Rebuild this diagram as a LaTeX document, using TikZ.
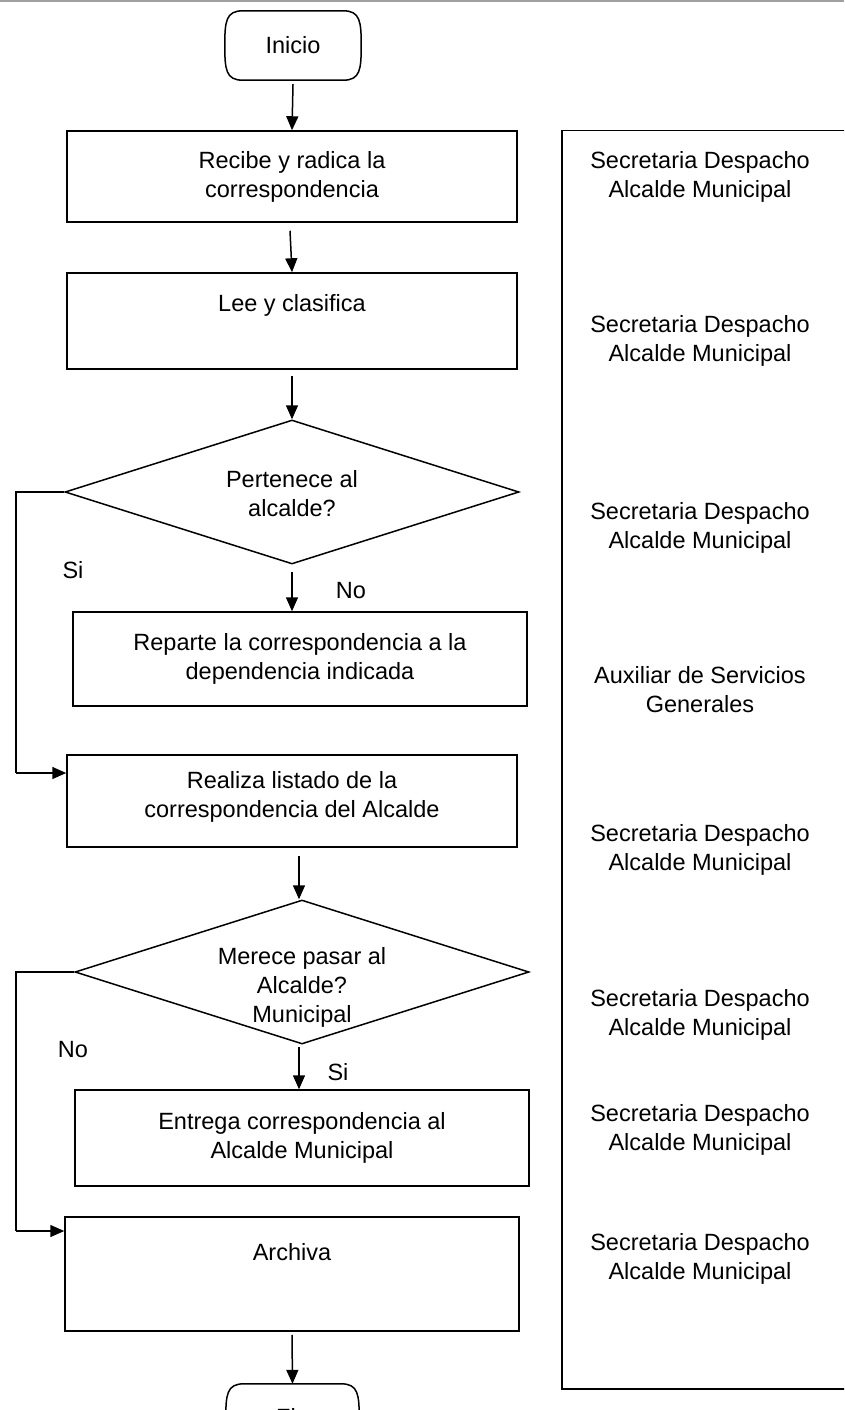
\documentclass[tikz,border=0pt]{standalone}
\usepackage{fontspec}
\setmainfont{Liberation Sans}
\usetikzlibrary{arrows.meta,shapes.geometric,calc}
\tikzset{
  txt/.style={font=\fontsize{23.5}{29}\selectfont, align=center, inner sep=0pt},
  procbox/.style={draw, line width=1.5pt, rectangle, inner sep=0pt},
  decbox/.style={draw, line width=1.5pt, diamond, inner sep=0pt},
  arr/.style={line width=1.5pt, -{Triangle[length=14pt,width=12pt]}},
  link/.style={line width=1.5pt},
}
\begin{document}
\begin{tikzpicture}[x=1pt,y=-1pt]
\useasboundingbox (0,0) rectangle (844,1410);
\clip (0,0) rectangle (844,1410);
\fill[white] (0,0) rectangle (844,1410);
% top gray rule
\draw[line width=2pt, color={rgb,255:red,160;green,160;blue,160}] (0,1) -- (844,1);

% terminators
\node[rectangle, minimum width=136pt, minimum height=69pt, inner sep=0pt] (inicio) at (293,45.5) {};
\draw[link] ($(inicio.north west)+(18,0)$) -- ($(inicio.north east)+(-18,0)$)
  .. controls ($(inicio.north east)+(-1,0)$) and ($(inicio.east)+(0,-24)$) .. (inicio.east)
  .. controls ($(inicio.east)+(0,24)$) and ($(inicio.south east)+(-1,0)$) .. ($(inicio.south east)+(-18,0)$)
  -- ($(inicio.south west)+(18,0)$)
  .. controls ($(inicio.south west)+(1,0)$) and ($(inicio.west)+(0,24)$) .. (inicio.west)
  .. controls ($(inicio.west)+(0,-24)$) and ($(inicio.north west)+(1,0)$) .. cycle;
\node[txt] at (inicio) {Inicio};

\node[rectangle, minimum width=133pt, minimum height=69pt, inner sep=0pt] (fin) at (292.5,1418.5) {};
\draw[link] ($(fin.north west)+(18,0)$) -- ($(fin.north east)+(-18,0)$)
  .. controls ($(fin.north east)+(-1,0)$) and ($(fin.east)+(0,-24)$) .. (fin.east)
  .. controls ($(fin.east)+(0,24)$) and ($(fin.south east)+(-1,0)$) .. ($(fin.south east)+(-18,0)$)
  -- ($(fin.south west)+(18,0)$)
  .. controls ($(fin.south west)+(1,0)$) and ($(fin.west)+(0,24)$) .. (fin.west)
  .. controls ($(fin.west)+(0,-24)$) and ($(fin.north west)+(1,0)$) .. cycle;
\node[txt] at ($(fin)+(0,-2)$) {Fin};

% process boxes
\node[procbox, minimum width=450pt, minimum height=91pt] (b1) at (292,176.5) {};
\node[txt] at (b1) {Recibe y radica la\\correspondencia};
\node[procbox, minimum width=450pt, minimum height=96pt] (b2) at (292,321) {};
\node[txt] at ($(b2)+(0,-16)$) {Lee y clasifica};
\node[decbox, minimum width=454pt, minimum height=144pt] (d1) at (292,492) {};
\node[txt] at ($(d1)+(0,2)$) {Pertenece al\\alcalde?};
\node[procbox, minimum width=454pt, minimum height=94pt] (b3) at (300,659) {};
\node[txt] at (b3) {Reparte la correspondencia a la\\dependencia indicada};
\node[procbox, minimum width=450pt, minimum height=92pt] (b4) at (292,801) {};
\node[txt] at ($(b4)+(0,-4)$) {Realiza listado de la\\correspondencia del Alcalde};
\node[decbox, minimum width=454pt, minimum height=144pt] (d2) at (302,972) {};
\node[txt] at ($(d2)+(0,15)$) {Merece pasar al\\Alcalde?\\Municipal};
\node[procbox, minimum width=454pt, minimum height=96pt] (b5) at (302,1138) {};
\node[txt] at (b5) {Entrega correspondencia al\\Alcalde Municipal};
\node[procbox, minimum width=454pt, minimum height=114pt] (b6) at (292,1274) {};
\node[txt] at ($(b6)+(0,-22)$) {Archiva};

% connectors
\draw[arr] (inicio.south) ++(0,4) -- (b1.north);
\draw[arr] ($(b1.south)+(-2,8)$) -- (b2.north);
\draw[arr] ($(b2.south)+(0,6)$) -- (d1.north);
\draw[arr] ($(d1.south)+(0,7)$) -- (d1.south |- b3.north);
\draw[arr] ($(b4.south)+(7,8)$) -- (d2.north -| b4.south -| 299,0) ;
\draw[arr] ($(d2.south)+(-3,2)$) -- (299,0 |- b5.north);
\draw[arr] ($(b6.south)+(0,3)$) -- (fin.north);
\coordinate (c1) at (16,773);
\coordinate (c2) at (16,1231);
\draw[link] (d1.west) -| (c1);
\draw[arr] (c1) -- (c1 -| b4.west);
\draw[link] (d2.west) -| (c2);
\draw[arr] (c2) -- (c2 -| b6.west);

% branch labels
\node[txt] (l1) at (73,570) {Si};
\node[txt] (l2) at (351,591) {No};
\node[txt] (l3) at (73,1050) {No};
\node[txt] (l4) at (338,1072) {Si};

% responsibility column
\node[procbox, minimum width=300pt, minimum height=1258pt, anchor=north west] (col) at (561,130) {};
\node[txt] (r1) at (700,177) {Secretaria Despacho\\Alcalde Municipal};
\node[txt] (r2) at (700,341) {Secretaria Despacho\\Alcalde Municipal};
\node[txt] (r3) at (700,528) {Secretaria Despacho\\Alcalde Municipal};
\node[txt] (r4) at (700,690) {Auxiliar de Servicios\\Generales};
\node[txt] (r5) at (700,850) {Secretaria Despacho\\Alcalde Municipal};
\node[txt] (r6) at (700,1015) {Secretaria Despacho\\Alcalde Municipal};
\node[txt] (r7) at (700,1130) {Secretaria Despacho\\Alcalde Municipal};
\node[txt] (r8) at (700,1259) {Secretaria Despacho\\Alcalde Municipal};
\end{tikzpicture}
\end{document}
